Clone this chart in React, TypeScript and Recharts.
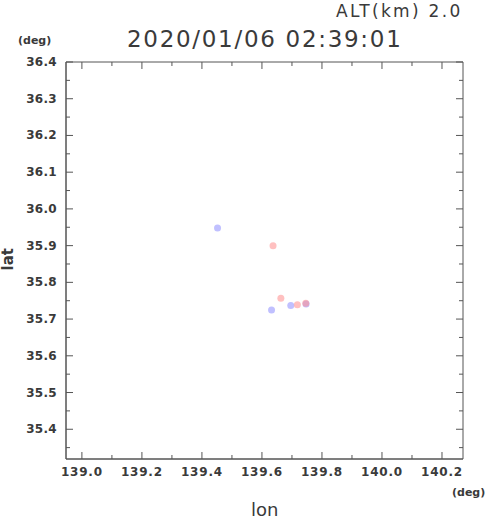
import {
  ScatterChart,
  Scatter,
  XAxis,
  YAxis,
  ReferenceArea,
} from "recharts";

// observed echoes (lon / lat, deg)
const blueLon = [139.452, 139.632, 139.696, 139.747];
const blueLat = [35.948, 35.725, 35.737, 35.741];
const redLon = [139.637, 139.663, 139.718, 139.746];
const redLat = [35.9, 35.757, 35.739, 35.743];

const xMajor = [139.0, 139.2, 139.4, 139.6, 139.8, 140.0, 140.2];
const xMinor = [139.1, 139.3, 139.5, 139.7, 139.9, 140.1];
const yMajor = [35.4, 35.5, 35.6, 35.7, 35.8, 35.9, 36.0, 36.1, 36.2, 36.3, 36.4];
const yMinor = [35.35, 35.45, 35.55, 35.65, 35.75, 35.85, 35.95, 36.05, 36.15, 36.25, 36.35];

const xDomain = [138.947, 140.27];
const yDomain = [35.319, 36.4];

const title = "2020/01/06 02:39:01";
const altLabel = "ALT(km) 2.0";

const W = 490;
const H = 521;
const PLOT_W = 397;
const PLOT_H = 397;
const AXIS = "#555";
const TEXT = "#3a3a3a";
const FONT = "'DejaVu Sans', sans-serif";

const blueData = blueLon.map((lon, i) => ({ lon, lat: blueLat[i] }));
const redData = redLon.map((lon, i) => ({ lon, lat: redLat[i] }));

const isMajor = (list: number[], v: number) => list.some((m) => Math.abs(m - v) < 1e-6);

function XTick(props: any) {
  const { x, y, payload } = props;
  const major = isMajor(xMajor, payload.value);
  const len = major ? 7 : 4;
  return (
    <g>
      <line x1={x} y1={y} x2={x} y2={y - len} stroke={AXIS} />
      <line x1={x} y1={y - PLOT_H} x2={x} y2={y - PLOT_H + len} stroke={AXIS} />
      {major && (
        <text x={x} y={y + 17} textAnchor="middle" fontSize={12} fontWeight="bold" fill={TEXT}
          fontFamily={FONT} letterSpacing={0.8}>
          {payload.value.toFixed(1)}
        </text>
      )}
    </g>
  );
}

function YTick(props: any) {
  const { x, y, payload } = props;
  const major = isMajor(yMajor, payload.value);
  const len = major ? 7 : 4;
  return (
    <g>
      <line x1={x} y1={y} x2={x + len} y2={y} stroke={AXIS} />
      <line x1={x + PLOT_W} y1={y} x2={x + PLOT_W - len} y2={y} stroke={AXIS} />
      {major && (
        <text x={x - 9} y={y + 4} textAnchor="end" fontSize={12} fontWeight="bold" fill={TEXT}
          fontFamily={FONT} letterSpacing={0.3}>
          {payload.value.toFixed(1)}
        </text>
      )}
    </g>
  );
}

const dot = (color: string) => (props: any) => (
  <circle cx={props.cx} cy={props.cy} r={3.5} fill={color} fillOpacity={0.55} />
);

const txt: React.CSSProperties = {
  position: "absolute",
  fontFamily: FONT,
  color: TEXT,
  whiteSpace: "nowrap",
  lineHeight: 1,
};

export default function App() {
  return (
    <div style={{ position: "absolute", left: 0, top: 0, width: W, height: H, background: "#fff" }}>
      <ScatterChart width={W} height={H} margin={{ top: 62, right: 27, bottom: 0, left: 0 }}>
        <XAxis
          type="number"
          dataKey="lon"
          domain={xDomain}
          ticks={[...xMajor, ...xMinor].sort((a, b) => a - b)}
          interval={0}
          allowDataOverflow
          height={62}
          tickSize={0}
          tickMargin={0}
          tick={<XTick />}
          axisLine={{ stroke: AXIS }}
        />
        <YAxis
          type="number"
          dataKey="lat"
          domain={yDomain}
          ticks={[...yMajor, ...yMinor].sort((a, b) => a - b)}
          interval={0}
          allowDataOverflow
          width={66}
          tickSize={0}
          tickMargin={0}
          tick={<YTick />}
          axisLine={{ stroke: AXIS }}
        />
        <ReferenceArea
          x1={xDomain[0]}
          x2={xDomain[1]}
          y1={yDomain[0]}
          y2={yDomain[1]}
          fill="none"
          stroke={AXIS}
          strokeOpacity={1}
          ifOverflow="visible"
        />
        <Scatter data={blueData} fill="#9a9aff" shape={dot("#8c8cff")} isAnimationActive={false} />
        <Scatter data={redData} fill="#ff9a9a" shape={dot("#ff8c8c")} isAnimationActive={false} />
      </ScatterChart>
      <div style={{ ...txt, left: 336, top: 3, fontSize: 17, letterSpacing: 2.3 }}>{altLabel}</div>
      <div style={{ ...txt, left: 127, top: 28, fontSize: 23, letterSpacing: 1.7 }}>{title}</div>
      <div style={{ ...txt, left: 18, top: 35, fontSize: 11, fontWeight: "bold" }}>(deg)</div>
      <div style={{ ...txt, left: 452, top: 487, fontSize: 11, fontWeight: "bold" }}>(deg)</div>
      <div style={{ ...txt, left: 251, top: 501, fontSize: 18 }}>lon</div>
      <div
        style={{
          ...txt,
          left: 1,
          top: 248,
          fontSize: 15,
          fontWeight: 600,
          writingMode: "vertical-rl",
          transform: "rotate(180deg)",
        }}
      >
        lat
      </div>
    </div>
  );
}
